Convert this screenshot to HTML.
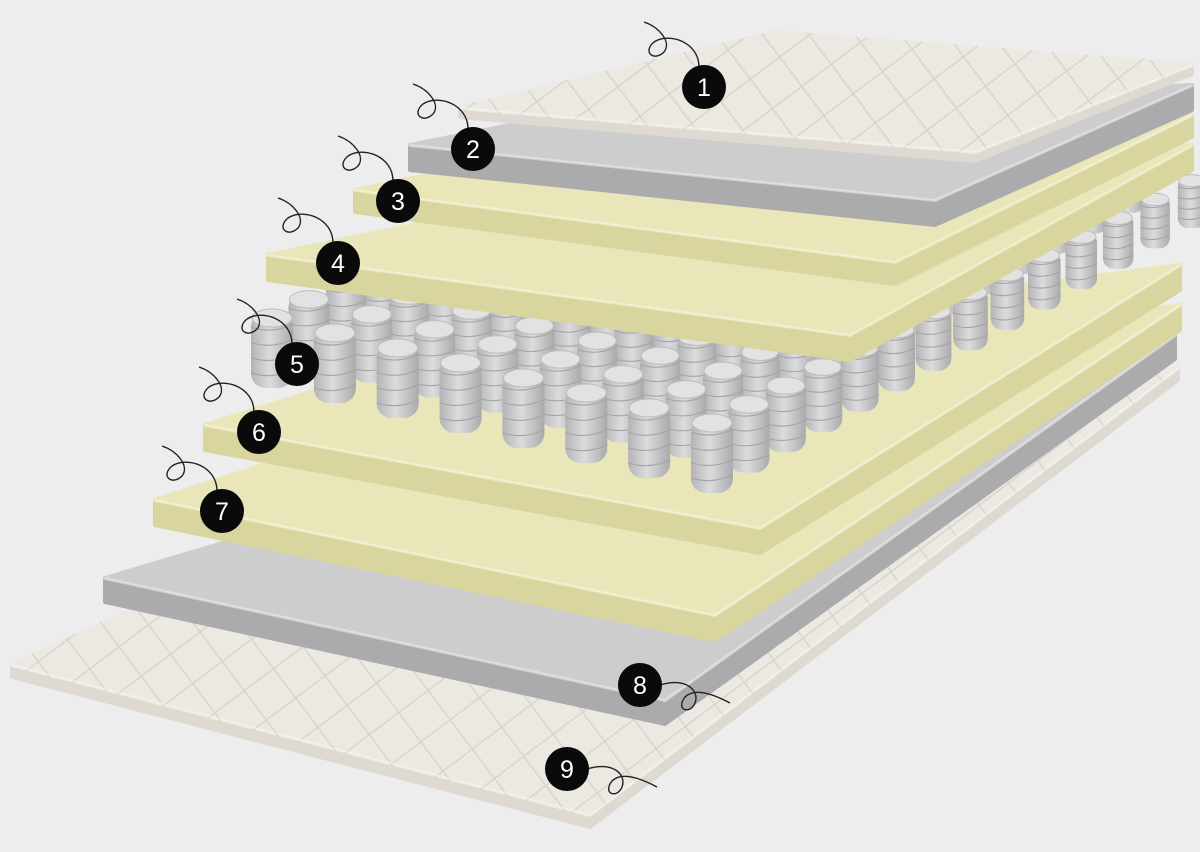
<!DOCTYPE html>
<html><head><meta charset="utf-8"><style>
html,body{margin:0;padding:0;background:#ededed;}
svg{display:block;}
text{font-family:"Liberation Sans",sans-serif;font-size:25px;fill:#fff;text-anchor:middle;}
</style></head><body>
<svg id="s" width="1200" height="852" viewBox="0 0 1200 852" xmlns="http://www.w3.org/2000/svg">
<defs>
<pattern id="quilt" width="52" height="52" patternUnits="userSpaceOnUse" patternTransform="rotate(8)">
<rect width="52" height="52" fill="#ece9e2"/>
<path d="M0 0L52 52M52 0L0 52" stroke="#d8d4cb" stroke-width="1.4"/>
</pattern>
<linearGradient id="spr" x1="0" x2="1">
<stop offset="0" stop-color="#b4b4b6"/><stop offset="0.45" stop-color="#dcdcde"/><stop offset="1" stop-color="#aaaaac"/>
</linearGradient>
</defs>
<rect width="1200" height="852" fill="#ededed"/>
<g id="lower"></g>
<g id="springs"></g>
<g id="upper"></g>
<g id="labels" fill="none" stroke="#222" stroke-width="1.4"></g>
</svg>
<script>
const NS="http://www.w3.org/2000/svg";
function el(p,tag,attrs){const e=document.createElementNS(NS,tag);for(const k in attrs)e.setAttribute(k,attrs[k]);p.appendChild(e);return e;}
function pts(a){return a.map(p=>p.join(',')).join(' ');}
function layer(g,FL,FR,BR,BL,t,top,edge){
  el(g,'polygon',{points:pts([FL,FR,BR,[BR[0],BR[1]+t],[FR[0],FR[1]+t],[FL[0],FL[1]+t]]),fill:edge,stroke:edge,'stroke-width':4,'stroke-linejoin':'round'});
  el(g,'polygon',{points:pts([FL,FR,BR,BL]),fill:top,stroke:top,'stroke-width':4,'stroke-linejoin':'round'});
  el(g,'polyline',{points:pts([FL,FR,BR]),fill:'none',stroke:'rgba(255,255,255,0.35)','stroke-width':2});
}
const lo=document.getElementById('lower'),up=document.getElementById('upper');
const Y='#e9e6ba',YE='#d9d59f',G='#cdcdce',GE='#ababad',C='url(#quilt)',CE='#dedad2';
layer(lo,[12,665],[590,815],[1178,368],[240,560],12,C,CE);
layer(lo,[105,578],[665,700],[1175,335],[300,520],24,G,GE);
layer(lo,[155,500],[715,615],[1180,305],[340,440],25,Y,YE);
layer(lo,[205,425],[760,528],[1180,265],[380,370],25,Y,YE);
const sg=document.getElementById('springs');
const A=[272,388],u=[440/7,105/7],v=[480/13,-265/13];
for(let j=13;j>=0;j--){for(let i=0;i<8;i++){
  const s=1-j*0.025;const x=A[0]+i*u[0]+j*v[0],y=A[1]+i*u[1]+j*v[1];
  const w=42*s,h=76*s;
  const g=el(sg,'g',{});
  el(g,'rect',{x:x-w/2,y:y-h,width:w,height:h,rx:w*0.35,fill:'url(#spr)'});
  for(let k=1;k<5;k++){el(g,'path',{d:`M${x-w/2} ${y-h+k*h/5}Q${x} ${y-h+k*h/5+7*s} ${x+w/2} ${y-h+k*h/5-3}`,stroke:'#a4a4a6','stroke-width':1.1,fill:'none'});}
  el(g,'ellipse',{cx:x,cy:y-h+6*s,rx:w/2-1,ry:9*s,fill:'#e2e2e3',stroke:'#bcbcbe'});
}}
layer(up,[268,255],[850,335],[1192,145],[460,215],25,Y,YE);
layer(up,[355,190],[895,262],[1192,115],[500,160],22,Y,YE);
layer(up,[410,145],[935,200],[1192,85],[560,115],25,G,GE);
layer(up,[460,108],[975,152],[1192,65],[775,32],9,C,CE);
const lb=document.getElementById('labels');
const L=[[1,704,87,-1],[2,473,149,-1],[3,398,201,-1],[4,338,263,-1],[5,297,364,-1],[6,259,432,-1],[7,222,511,-1],[8,640,685,1],[9,567,769,1]];
for(const [n,x,y,d] of L){
  if(d<0){el(lb,'path',{d:`M${x-5} ${y-20}C${x-5} ${y-45} ${x-35} ${y-55} ${x-50} ${y-45}C${x-62} ${y-35} ${x-50} ${y-25} ${x-40} ${y-35}C${x-32} ${y-45} ${x-45} ${y-60} ${x-60} ${y-65}`});}
  else{el(lb,'path',{d:`M${x+20} ${y}C${x+45} ${y-8} ${x+60} ${y+5} ${x+55} ${y+18}C${x+50} ${y+30} ${x+35} ${y+25} ${x+45} ${y+12}C${x+55} ${y+2} ${x+75} ${y+10} ${x+90} ${y+18}`});}
  el(lb,'circle',{cx:x,cy:y,r:22,fill:'#0a0a0a',stroke:'none'});
  const t=el(lb,'text',{x:x,y:y+9,stroke:'none'});t.textContent=n;
}
</script>
</body></html>
